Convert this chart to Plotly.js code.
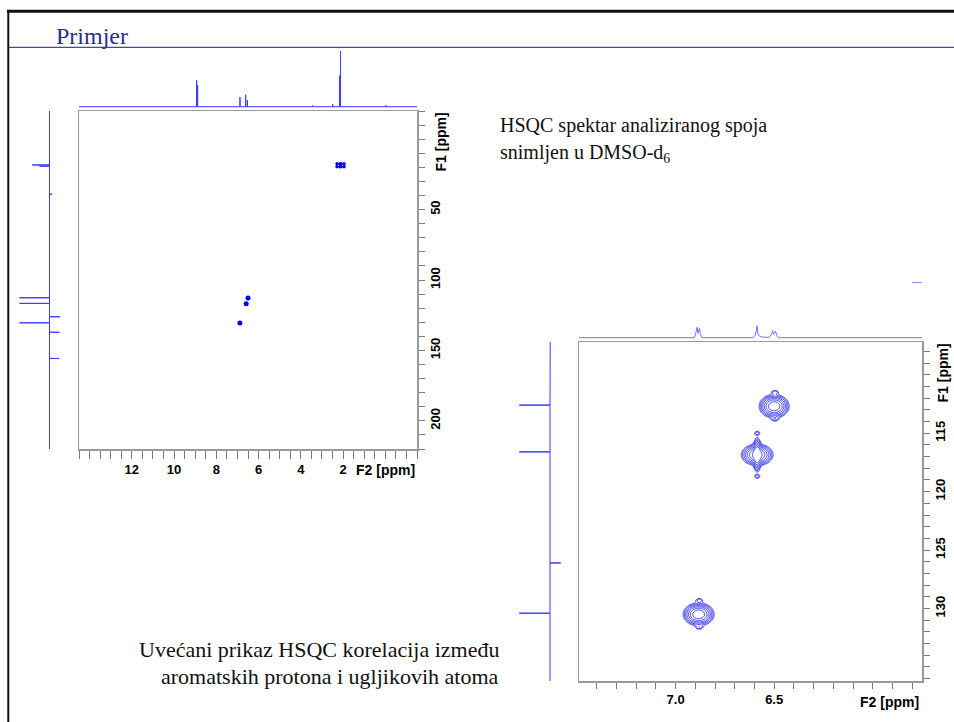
<!DOCTYPE html>
<html><head><meta charset="utf-8">
<script src="https://cdn.plot.ly/plotly-3.0.1.min.js"></script>
<style>html,body{margin:0;padding:0;background:#fff;}#chart{width:954px;height:722px;}</style>
</head><body><div id="chart"></div>
<script>
// ---- 1H projection of the full spectrum (ppm, relative height) ----
const protonShift  = [8.93, 8.886, 6.88, 6.61, 6.53, 3.45, 2.49, 2.16, 2.12, -0.02];
const protonHeight = [0.44, 0.36, 0.16, 0.20, 0.11, 0.02, 0.04, 0.52, 0.925, 0.02];
// ---- 13C projection (ppm, relative height; negative = drawn to the right) ----
const carbonShift  = [18.3, 19.2, 39.1, 112.6, 116.6, 126.1, 130.4, 137.1, 155.7];
const carbonHeight = [0.58, 0.33, -0.09, 1.0, 1.0, -0.35, 1.0, -0.33, -0.32];
// ---- HSQC cross peaks (1H ppm, 13C ppm) ----
const methylH = [2.22, 2.02];
const methylC = [18.6, 18.6];
const aromH = [6.50, 6.586, 6.883];
const aromC = [112.7, 116.85, 130.5];
// ---- expanded aromatic region: contour components ----
const compH    = [6.500, 6.586, 6.586, 6.883, 6.496, 6.496, 6.586, 6.586, 6.880, 6.880];
const compC    = [112.7, 116.85, 116.85, 130.5, 111.5, 113.8, 115.0, 118.7, 129.3, 131.6];
const compAmp  = [1.0, 0.8, 1.0, 1.0, 0.08, 0.08, 0.08, 0.08, 0.08, 0.08];
const compSigH = [0.030, 0.033, 0.009, 0.031, 0.013, 0.013, 0.011, 0.011, 0.013, 0.013];
const compSigC = [0.40, 0.38, 0.58, 0.39, 0.13, 0.13, 0.13, 0.13, 0.13, 0.13];
// ---- 1H projection of the expanded region (ppm, relative height) ----
const insetProjPpm = [7.49, 6.905, 6.897, 6.891, 6.886, 6.879, 6.874, 6.866, 6.607, 6.598, 6.590, 6.587, 6.582, 6.575, 6.560, 6.530, 6.520, 6.512, 6.508, 6.503, 6.497, 6.493, 6.486, 6.476, 5.75];
const insetProjInt = [0, 0, 0.25, 0.52, 0.22, 0.47, 0.15, 0, 0, 0.10, 0.35, 0.60, 0.18, 0.08, 0.03, 0.02, 0.08, 0.20, 0.35, 0.17, 0.22, 0.33, 0.10, 0, 0];

const W = 954, H = 722;
const px = v => v / W, py = v => 1 - v / H;

function sticks(shifts, heights, lo, hi) {
  const idx = shifts.map((s, i) => i).sort((a, b) => shifts[a] - shifts[b]);
  const pos = [lo], val = [0];
  idx.forEach(i => { pos.push(shifts[i], shifts[i], shifts[i]); val.push(0, heights[i], 0); });
  pos.push(hi); val.push(0);
  return {pos, val};
}
const hStick = sticks(protonShift, protonHeight, -1.5, 14.5);
const cStick = sticks(carbonShift, carbonHeight, -20, 220);

// contour grid for the expanded region
const gx = [], gy = [];
for (let v = 5.75; v <= 7.4901; v += 0.004) gx.push(v);
for (let v = 107.2; v <= 136.2001; v += 0.06) gy.push(v);
const gz = gy.map(c => gx.map(h => {
  let s = 0;
  for (let k = 0; k < compH.length; k++) {
    const dh = (h - compH[k]) / compSigH[k], dc = (c - compC[k]) / compSigC[k];
    s += compAmp[k] * Math.exp(-0.5 * (dh * dh + dc * dc));
  }
  return Math.log10(s + 1e-4);
}));

const blueMain = '#3c3cff', blueInset = '#7070ff';
const data = [
  {type: 'scatter', mode: 'lines', x: hStick.pos, y: hStick.val, xaxis: 'x2', yaxis: 'y2',
   line: {color: blueMain, width: 1}, hoverinfo: 'skip'},
  {type: 'scatter', mode: 'lines', x: cStick.val, y: cStick.pos, xaxis: 'x3', yaxis: 'y3',
   line: {color: blueMain, width: 1}, hoverinfo: 'skip'},
  {type: 'scatter', mode: 'markers', x: methylH, y: methylC, xaxis: 'x', yaxis: 'y',
   marker: {color: '#0000ff', size: 6, symbol: 'hash', line: {color: '#0000ff', width: 2}}},
  {type: 'scatter', mode: 'markers', x: aromH, y: aromC, xaxis: 'x', yaxis: 'y',
   marker: {color: '#0000ff', size: 5, symbol: 'circle'}},
  {type: 'contour', x: gx, y: gy, z: gz, xaxis: 'x4', yaxis: 'y4', showscale: false,
   contours: {coloring: 'lines', start: -1.4, end: -0.2, size: 0.2},
   colorscale: [[0, '#3a3af0'], [1, '#3a3af0']], line: {width: 1}, hoverinfo: 'skip'},
  {type: 'scatter', mode: 'lines', x: insetProjPpm, y: insetProjInt, xaxis: 'x5', yaxis: 'y5',
   line: {color: blueInset, width: 1}, hoverinfo: 'skip'},
  {type: 'scatter', mode: 'lines', x: cStick.val, y: cStick.pos, xaxis: 'x6', yaxis: 'y6',
   line: {color: blueMain, width: 1}, hoverinfo: 'skip'}
];

const tickFont = {family: 'Liberation Sans, Arial, sans-serif', size: 13, color: '#000', weight: 'bold'};
const titleFont = {family: 'Liberation Sans, Arial, sans-serif', size: 14, color: '#000', weight: 'bold'};
const boxAx = {showline: true, mirror: true, linecolor: '#9a9a9a', linewidth: 1.5, showgrid: false,
  zeroline: false, ticks: 'outside', tickcolor: '#7a7a7a', tickwidth: 1, tickfont: tickFont, fixedrange: true};
const hidden = {visible: false, showgrid: false, zeroline: false, fixedrange: true};

const layout = {
  width: W, height: H, margin: {l: 0, r: 0, t: 0, b: 0}, showlegend: false,
  paper_bgcolor: '#fff', plot_bgcolor: 'rgba(0,0,0,0)',
  xaxis: Object.assign({}, boxAx, {domain: [px(79), px(417)], range: [14.5, -1.5], anchor: 'y',
    tickmode: 'array', tickvals: [12, 10, 8, 6, 4, 2], ticklen: 8,
    minor: {tickmode: 'linear', tick0: 0, dtick: 0.5, ticks: 'outside', ticklen: 8, tickcolor: '#7a7a7a'}}),
  yaxis: Object.assign({}, boxAx, {domain: [py(449), py(111)], range: [220, -20], anchor: 'x', side: 'right',
    tickmode: 'array', tickvals: [50, 100, 150, 200], tickangle: -90, ticklen: 6,
    minor: {tickmode: 'linear', tick0: 0, dtick: 10, ticks: 'outside', ticklen: 6, tickcolor: '#7a7a7a'}}),
  xaxis2: Object.assign({}, hidden, {domain: [px(79), px(417)], range: [14.5, -1.5], anchor: 'y2'}),
  yaxis2: Object.assign({}, hidden, {domain: [py(109.7), py(46.7)], range: [-0.05, 1], anchor: 'x2'}),
  xaxis3: Object.assign({}, hidden, {domain: [px(18.6), px(61.5)], range: [1.03, -0.4], anchor: 'y3'}),
  yaxis3: Object.assign({}, hidden, {domain: [py(449), py(111)], range: [220, -20], anchor: 'x3'}),
  xaxis4: Object.assign({}, boxAx, {domain: [px(579), px(922)], range: [7.49, 5.75], anchor: 'y4',
    tickmode: 'array', tickvals: [7.0, 6.5], ticktext: ['7.0', '6.5'], ticklen: 6,
    minor: {tickmode: 'linear', tick0: 0, dtick: 0.1, ticks: 'outside', ticklen: 6, tickcolor: '#7a7a7a'}}),
  yaxis4: Object.assign({}, boxAx, {domain: [py(681), py(342)], range: [136.2, 107.2], anchor: 'x4', side: 'right',
    tickmode: 'array', tickvals: [115, 120, 125, 130], tickangle: -90, ticklen: 6,
    minor: {tickmode: 'linear', tick0: 0, dtick: 1, ticks: 'outside', ticklen: 6, tickcolor: '#7a7a7a'}}),
  xaxis5: Object.assign({}, hidden, {domain: [px(579), px(922)], range: [7.49, 5.75], anchor: 'y5'}),
  yaxis5: Object.assign({}, hidden, {domain: [py(339.7), py(317.7)], range: [-0.1, 1], anchor: 'x5'}),
  xaxis6: Object.assign({}, hidden, {domain: [px(518.4), px(562.3)], range: [1.03, -0.4], anchor: 'y6'}),
  yaxis6: Object.assign({}, hidden, {domain: [py(681), py(342)], range: [136.2, 107.2], anchor: 'x6'}),
  shapes: [
    {type: 'line', xref: 'paper', yref: 'paper', x0: px(7), x1: 1, y0: py(11.3), y1: py(11.3), line: {color: '#111', width: 3}},
    {type: 'line', xref: 'paper', yref: 'paper', x0: px(8.3), x1: px(8.3), y0: py(10), y1: 0, line: {color: '#111', width: 2}},
    {type: 'line', xref: 'paper', yref: 'paper', x0: px(8), x1: 1, y0: py(47.3), y1: py(47.3), line: {color: '#1c1c7c', width: 1}},
    {type: 'line', xref: 'paper', yref: 'paper', x0: px(912), x1: px(922), y0: py(282.5), y1: py(282.5), line: {color: '#8888ff', width: 1}}
  ],
  annotations: [
    {text: 'Primjer', xref: 'paper', yref: 'paper', x: px(54), y: py(36), xanchor: 'left', yanchor: 'middle', showarrow: false,
     font: {family: 'Liberation Serif, Times New Roman, serif', size: 24, color: '#2b2b9a'}},
    {text: 'HSQC spektar analiziranog spoja', xref: 'paper', yref: 'paper', x: px(498), y: py(125.3), xanchor: 'left', yanchor: 'middle', showarrow: false,
     font: {family: 'Liberation Serif, Times New Roman, serif', size: 20, color: '#111'}},
    {text: 'snimljen u DMSO-d<sub>6</sub>', xref: 'paper', yref: 'paper', x: px(498), y: py(153.3), xanchor: 'left', yanchor: 'middle', showarrow: false,
     font: {family: 'Liberation Serif, Times New Roman, serif', size: 20, color: '#111'}},
    {text: 'Uvećani prikaz HSQC korelacija između', xref: 'paper', yref: 'paper', x: px(501), y: py(649), xanchor: 'right', yanchor: 'middle', showarrow: false,
     font: {family: 'Liberation Serif, Times New Roman, serif', size: 22, color: '#111'}},
    {text: 'aromatskih protona i ugljikovih atoma', xref: 'paper', yref: 'paper', x: px(501), y: py(676.5), xanchor: 'right', yanchor: 'middle', showarrow: false,
     font: {family: 'Liberation Serif, Times New Roman, serif', size: 22, color: '#111'}},
    {text: 'F2 [ppm]', xref: 'paper', yref: 'paper', x: px(417), y: py(470), xanchor: 'right', yanchor: 'middle', showarrow: false, font: titleFont},
    {text: 'F1 [ppm]', xref: 'paper', yref: 'paper', x: px(440), y: py(111), xanchor: 'center', yanchor: 'top', textangle: -90, showarrow: false, font: titleFont},
    {text: 'F2 [ppm]', xref: 'paper', yref: 'paper', x: px(921), y: py(702), xanchor: 'right', yanchor: 'middle', showarrow: false, font: titleFont},
    {text: 'F1 [ppm]', xref: 'paper', yref: 'paper', x: px(943), y: py(342), xanchor: 'center', yanchor: 'top', textangle: -90, showarrow: false, font: titleFont}
  ]
};

Plotly.newPlot('chart', data, layout, {staticPlot: true, displayModeBar: false});
</script></body></html>
